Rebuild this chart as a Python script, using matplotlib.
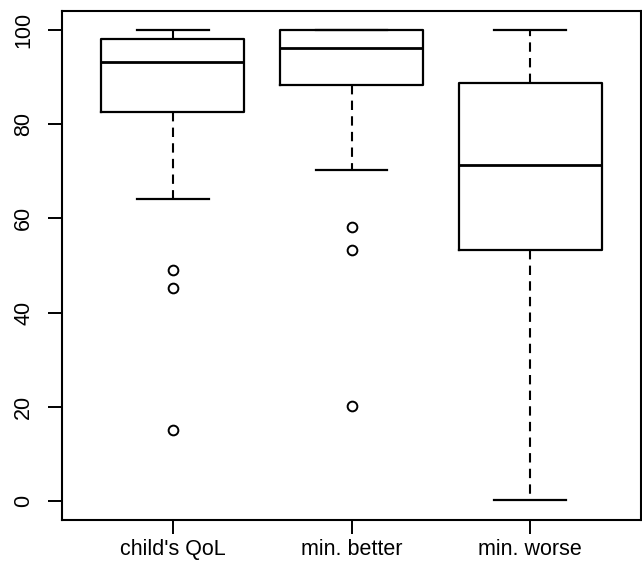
import matplotlib
matplotlib.use("Agg")
import matplotlib.pyplot as plt

categories = ["child's QoL", "min. better", "min. worse"]
whisker_low = [64.1, 70.2, 0.3]
q1 = [82.6, 88.2, 53.3]
median = [93.2, 96.2, 71.3]
q3 = [98.1, 100.0, 88.8]
whisker_high = [100.0, 100.0, 100.0]
outliers = [[49.1, 45.2, 15.1], [58.1, 53.2, 20.2], []]
yticks = [0, 20, 40, 60, 80, 100]

plt.rcParams['font.family'] = ['Liberation Sans', 'DejaVu Sans']

fig = plt.figure(figsize=(6.42, 5.67), dpi=100)
ax = fig.add_axes([62/642, 1-520/567, (641-62)/642, (520-11)/567])

stats = []
for i, c in enumerate(categories):
    stats.append(dict(label=c, whislo=whisker_low[i], q1=q1[i], med=median[i],
                      q3=q3[i], whishi=whisker_high[i], fliers=outliers[i]))

positions = list(range(1, len(categories) + 1))
ax.bxp(stats, positions=positions, widths=0.8, showfliers=True,
       boxprops=dict(color='black', linewidth=1.6),
       medianprops=dict(color='black', linewidth=2.0),
       whiskerprops=dict(color='black', linewidth=1.5, linestyle=(0, (4.5, 3))),
       capprops=dict(color='black', linewidth=1.6),
       capwidths=0.4,
       flierprops=dict(marker='o', markerfacecolor='none', markeredgecolor='black',
                       markersize=7, markeredgewidth=1.4))

ax.set_xlim(0.38, 3.62)
ax.set_ylim(-4, 104)
ax.set_yticks(yticks)
ax.set_yticklabels([str(v) for v in yticks], rotation=90, va='center')
ax.set_xticks(positions)
ax.set_xticklabels(categories)
ax.tick_params(axis='both', direction='out', length=10, width=1.4, labelsize=15.5, colors='black')
ax.tick_params(axis='y', pad=10)
ax.tick_params(axis='x', pad=4)
for s in ax.spines.values():
    s.set_linewidth(1.5)
    s.set_color('black')

fig.savefig("out.png", dpi=100)
